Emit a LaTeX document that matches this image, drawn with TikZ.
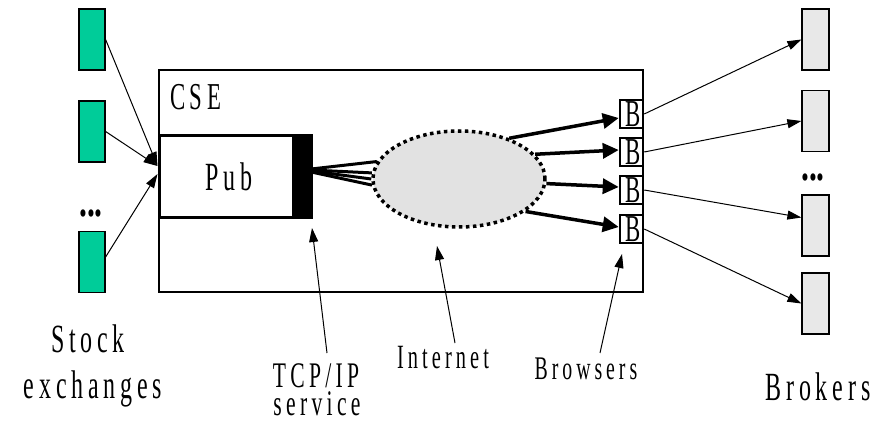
\documentclass[tikz,border=0pt]{standalone}
\usepackage{fontspec}
\newfontfamily\labfont{Liberation Serif}[FakeStretch=0.6,LetterSpace=12]
\newfontfamily\dotfont{Liberation Serif}[FakeStretch=0.7]
\usetikzlibrary{arrows.meta,shapes.geometric}
\definecolor{exgreen}{RGB}{0,204,153}
\definecolor{brokergray}{RGB}{232,232,232}
\definecolor{netgray}{RGB}{226,226,226}

\begin{document}
\begin{tikzpicture}[x=1pt,y=-1pt,
  lab/.style={inner sep=0pt,anchor=base,font=\labfont\fontsize{#1}{#1}\selectfont},
  dots/.style={inner sep=0pt,anchor=base,font=\dotfont\bfseries\fontsize{45}{45}\selectfont},
  exbox/.style={draw,line width=1.2pt,fill=exgreen,minimum width=26pt,minimum height=61pt,inner sep=0pt},
  brbox/.style={draw,line width=1.2pt,fill=brokergray,minimum width=27pt,minimum height=61pt,inner sep=0pt},
  bbox/.style={draw,line width=2.5pt,fill=white,minimum width=23pt,minimum height=28pt,inner sep=0pt,
    font=\labfont\fontsize{38}{38}\selectfont},
  thin/.style={line width=1pt,-{Triangle[length=14pt,width=9pt]}},
  fanline/.style={line width=3pt},
  bold/.style={line width=3.5pt,-{Triangle[length=16pt,width=15pt]}}
]
\useasboundingbox (0,0) rectangle (873,422);

% CSE enclosure
\node[draw,line width=1.2pt,minimum width=484pt,minimum height=222pt,inner sep=0pt] (cse) at (401,181) {};
\node[lab=38,anchor=base west] (cselab) at (170,110) {CSE};

% publisher with its TCP/IP end
\node[draw,line width=3pt,fill=white,minimum width=152pt,minimum height=82pt,inner sep=0pt,
  font=\labfont\fontsize{40}{40}\selectfont] (pub) at (235,177) {Pub\hspace*{12pt}};
\node[fill=black,minimum width=19pt,minimum height=82pt,inner sep=0pt] (tcp) at (301.5,177) {};

% the Internet cloud
\node[ellipse,draw,line width=3.5pt,dash pattern=on 3.5pt off 3.5pt,fill=netgray,
  minimum width=172pt,minimum height=96pt,inner sep=0pt] (net) at (459,179) {};

% browsers
\node[bbox] (b1) at (631.5,114) {B\hspace*{-4pt}};
\node[bbox] (b2) at (631.5,152) {B\hspace*{-4pt}};
\node[bbox] (b3) at (631.5,190) {B\hspace*{-4pt}};
\node[bbox] (b4) at (631.5,229) {B\hspace*{-4pt}};

% stock exchanges
\node[exbox] (ex1) at (92,39.5) {};
\node[exbox] (ex2) at (92,131.5) {};
\node[exbox] (ex3) at (92,262) {};
\node[dots] (exdots) at (91,216.5) {...};

% brokers
\node[brbox] (br1) at (815.5,39.5) {};
\node[brbox] (br2) at (815.5,121) {};
\node[brbox] (br3) at (815.5,225.5) {};
\node[brbox] (br4) at (815.5,303.5) {};
\node[dots] (brdots) at (813,180.5) {...};

% feeds into the publisher
\coordinate (pin1) at (157.5,166);
\coordinate (pin2) at (157.5,174);
\draw[thin] (ex1.east) -- (pin1);
\draw[thin] (ex2.east) -- (pin1);
\draw[thin] ([yshift=5pt]ex3.east) -- (pin2);

% TCP/IP connections into the Internet
\draw[fanline] ([yshift=8pt]tcp.east) -- (net.168);
\draw[fanline] ([yshift=7pt]tcp.east) -- (net.176);
\draw[fanline] ([yshift=6pt]tcp.east) -- (net.180);
\draw[fanline] ([yshift=5pt]tcp.east) -- (net.184);

% Internet to browsers
\draw[bold] (net.39) -- ([yshift=-4pt]b1.west);
\draw[bold] (net.18) -- ([yshift=2pt]b2.west);
\draw[bold] (net.357) -- ([yshift=3pt]b3.west);
\draw[bold] (net.334) -- ([yshift=2pt]b4.west);

% browsers to brokers
\draw[thin] (b1.east) -- (br1.west);
\draw[thin] (b2.east) -- (br2.west);
\draw[thin] (b3.east) -- ([yshift=8pt]br3.west);
\draw[thin] (b4.east) -- (br4.west);

% labels and their pointers
\node[lab=40] (stock) at (88,352) {Stock};
\node[lab=40] (exch) at (93,398) {exchanges};
\node[lab=36] (tcplab) at (316,387) {TCP/IP};
\node[lab=36] (svclab) at (317,415) {service};
\node[lab=34] (netlab) at (443,368) {Internet};
\node[lab=33] (brwlab) at (586,379) {Browsers};
\node[lab=40] (brklab) at (818,400) {Brokers};

\coordinate (tcptail) at (327,353);
\coordinate (tcptip) at (312,228);
\coordinate (nettail) at (455,343);
\coordinate (nettip) at (437,246);
\coordinate (brwtail) at (600,353);
\coordinate (brwtip) at (622,254);
\draw[thin] (tcptail) -- (tcptip);
\draw[thin] (nettail) -- (nettip);
\draw[thin] (brwtail) -- (brwtip);
\end{tikzpicture}
\end{document}
